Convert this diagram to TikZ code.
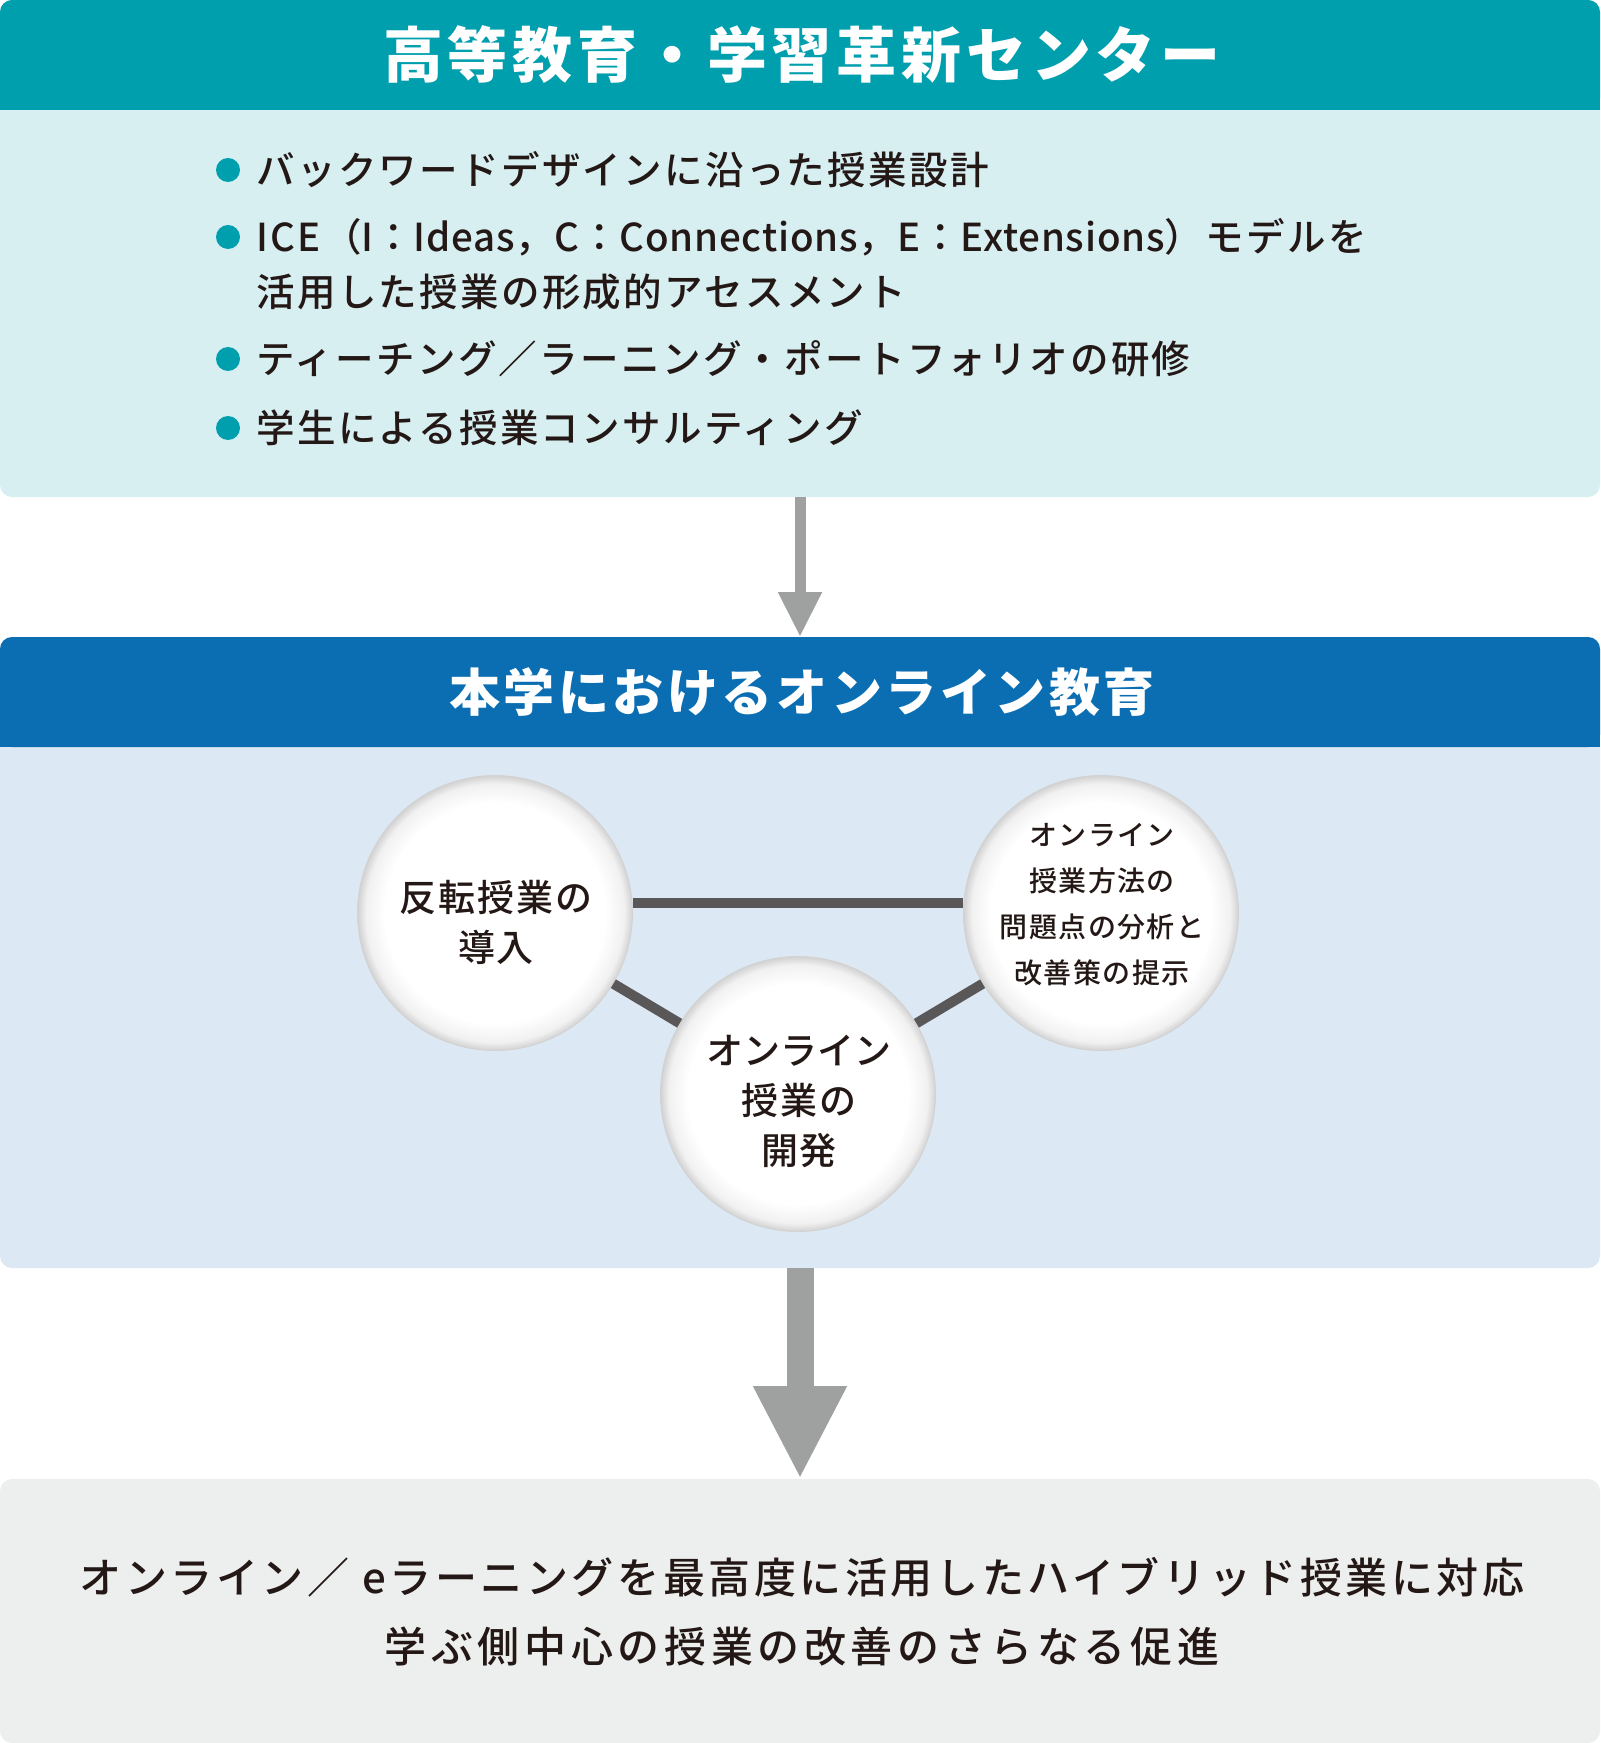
\documentclass[tikz,border=0pt]{standalone}
\usepackage{fontspec}
\usetikzlibrary{positioning,arrows.meta}
\setmainfont{Noto Sans CJK JP}
\newfontfamily\titlefont[LetterSpace=8]{Noto Sans CJK JP}
\newfontfamily\subtitlefont[LetterSpace=7]{Noto Sans CJK JP}
\newfontfamily\listfont[LetterSpace=6]{Noto Sans CJK JP Medium}
\newfontfamily\circfont[LetterSpace=5]{Noto Sans CJK JP Medium}
\newfontfamily\goalfont[LetterSpace=11]{Noto Sans CJK JP Medium}
\definecolor{ctrTealHead}{HTML}{009FAE}
\definecolor{ctrTealBg}{HTML}{D8EFF2}
\definecolor{ctrBlueHead}{HTML}{0B6EB3}
\definecolor{ctrBlueBg}{HTML}{DCE9F4}
\definecolor{ctrGreyArrow}{HTML}{9FA0A0}
\definecolor{ctrGreyLine}{HTML}{595757}
\definecolor{ctrGreyBg}{HTML}{EDEFEF}
\definecolor{ctrInk}{HTML}{231815}
\definecolor{ctrRimMid}{HTML}{F1F1F1}
\definecolor{ctrRimOut}{HTML}{D2D2D2}
\pgfdeclareradialshading{circle rim}{\pgfpoint{0bp}{0bp}}{%
  color(0bp)=(white); color(20bp)=(white); color(23.5bp)=(ctrRimMid);
  color(25bp)=(ctrRimOut); color(50bp)=(ctrRimOut)}
\tikzset{
  panel/.style={
    rectangle, rounded corners=6pt,
    inner sep=0pt, outer sep=0pt,
    minimum width=800pt,
  },
  head text/.style={text=white, inner sep=0pt},
  bullet dot/.style={circle, fill=ctrTealHead, inner sep=0pt, minimum size=12pt},
  list item/.style={
    anchor=west, inner sep=0pt, align=left, text=ctrInk,
    font=\listfont\fontsize{19.25pt}{27.5pt}\selectfont,
  },
  idea circle/.style={
    circle, shading=circle rim, draw=ctrRimOut, line width=0.4pt,
    minimum size=137.5pt, inner sep=0pt,
  },
  idea text/.style={
    inner sep=0pt, align=center, text=ctrInk,
    font=\circfont\fontsize{18.5pt}{25pt}\selectfont,
  },
  link line/.style={draw=ctrGreyLine, line width=5pt},
  flow arrow/.style={draw=ctrGreyArrow, line width=5.5pt,
    -{Triangle[length=22.5pt, width=20.5pt]}},
  big flow arrow/.style={draw=ctrGreyArrow, line width=13.5pt,
    -{Triangle[length=46.5pt, width=43.5pt]}},
}
\begin{document}
\begin{tikzpicture}[x=0.5pt, y=-0.5pt]
\useasboundingbox (0,0) rectangle (1600,1743);

% Top block: centre and its activities
\node[panel, fill=ctrTealBg, minimum height=248.5pt] (ctr) at (800,248.5) {};
\fill[ctrTealHead, rounded corners=6pt] (0,0) rectangle (1600,110);
\fill[ctrTealHead] (0,60) rectangle (1600,110);
\node[head text, font=\titlefont\bfseries\fontsize{30pt}{36pt}\selectfont]
  (ctrTitle) at (802,55) {高等教育・学習革新センター};
\foreach \y [count=\i] in {170,237,359,428}
  \node[bullet dot] (dot\i) at (228,\y) {};
\node[list item] (item1) at (256,170) {バックワードデザインに沿った授業設計};
\node[list item] (item2) at (256,264.5) {%
  ICE（{\addfontfeature{LetterSpace=2}I：Ideas，C：Connections，E：Extensions}）モデルを\\
  活用した授業の形成的アセスメント};
\node[list item] (item3) at (256,359) {ティーチング／ラーニング・ポートフォリオの研修};
\node[list item] (item4) at (256,428) {学生による授業コンサルティング};

% Middle block: online education
\node[panel, fill=ctrBlueBg, minimum height=315.5pt] (online) at (800,952.5) {};
\fill[ctrBlueHead, rounded corners=6pt] (0,637) rectangle (1600,747);
\fill[ctrBlueHead] (0,690) rectangle (1600,747);
\node[head text, font=\subtitlefont\bfseries\fontsize{25.5pt}{30pt}\selectfont]
  (onlineTitle) at (802,692) {本学におけるオンライン教育};

\node[idea circle] (flip) at (495,913) {};
\node[idea circle] (review) at (1101,913) {};
\node[idea circle] (develop) at (798,1094) {};
\draw[link line] (flip.4) -- (review.176);
\draw[link line] (flip) -- (develop);
\draw[link line] (review) -- (develop);
\node[idea text] (flipText) at (496,922) {反転授業の\\導入};
\node[idea text, font=\circfont\fontsize{14pt}{23pt}\selectfont]
  (reviewText) at (1102,905) {オンライン\\授業方法の\\問題点の分析と\\改善策の提示};
\node[idea text] (developText) at (799,1101)
  {{\addfontfeature{LetterSpace=0}オンライン}\\授業の\\開発};

% Bottom block: outcome
\node[panel, fill=ctrGreyBg, minimum height=132pt] (goal) at (800,1611) {};
\node[align=center, text=ctrInk, font=\goalfont\fontsize{21pt}{34.5pt}\selectfont]
  (goalText) at (802,1611.5) {%
  {\addfontfeature{LetterSpace=8.5}オンライン／ eラーニングを最高度に活用したハイブリッド授業に対応}\\
  学ぶ側中心の授業の改善のさらなる促進};

% Arrows between blocks
\draw[flow arrow] (ctr.south) -- (online.north);
\draw[big flow arrow] (online.south) -- (goal.north);
\end{tikzpicture}
\end{document}
